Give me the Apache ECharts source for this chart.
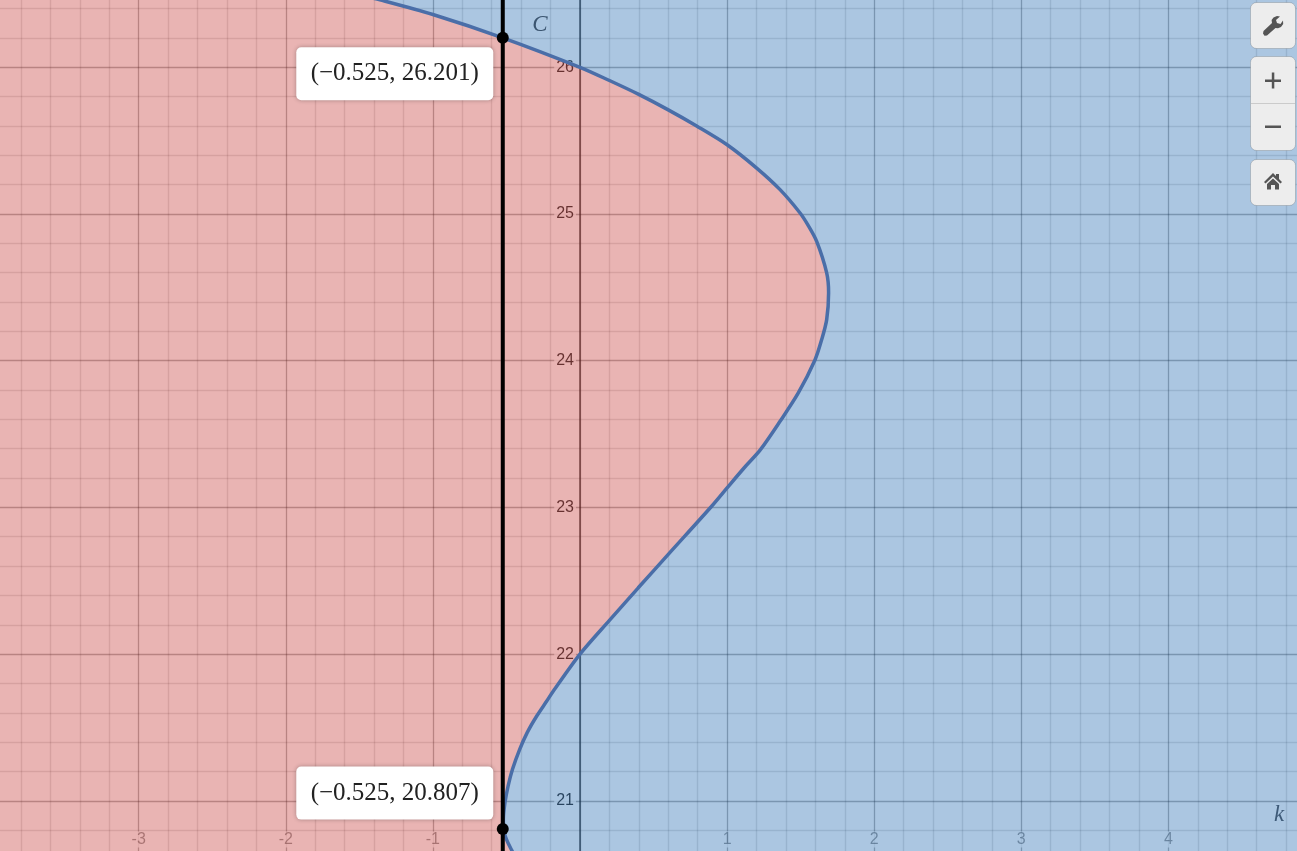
<!DOCTYPE html>
<html>
<head>
<meta charset="utf-8">
<style>html,body{margin:0;padding:0;background:#fff;overflow:hidden}#c{width:1297px;height:851px}</style>
<script src="https://cdn.jsdelivr.net/npm/echarts@6/dist/echarts.min.js"></script>
</head>
<body>
<div id="c"></div>
<script>
// boundary curve, top to bottom
const curveK = [-1.45,-1.36,-1.0,-0.525,0,0.2,0.396,0.6,0.793,1.0,1.201,1.36,1.496,1.55,1.609,1.677,1.69,1.677,1.643,1.598,1.484,1.36,1.224,1.118,1.0,0.895,0.6,0.396,0.2,0,-0.18,-0.226,-0.294,-0.359,-0.41,-0.459,-0.489,-0.51,-0.521,-0.52,-0.5,-0.464,-0.43];
const curveC = [26.48,26.46,26.36,26.201,26,25.91,25.817,25.71,25.6,25.472,25.313,25.166,25.007,24.924,24.813,24.598,24.464,24.28,24.144,24.007,23.78,23.587,23.39,23.272,23.133,23.008,22.68,22.452,22.23,22,21.75,21.68,21.578,21.465,21.351,21.215,21.1,20.988,20.874,20.807,20.737,20.663,20.6];
const lineK = -0.525;
const markedK = [-0.525,-0.525];
const markedC = [26.201,20.807];
const markedText = ['(\u22120.525, 26.201)','(\u22120.525, 20.807)'];
const kRange = [-4,5];
const cRange = [20,27];

const curve = curveK.map((k,i)=>[k,curveC[i]]);
const redShape = curve.concat([[kRange[0],cRange[0]],[kRange[0],cRange[1]]]);
const blueShape = curve.concat([[kRange[1],cRange[0]],[kRange[1],cRange[1]],[kRange[0],cRange[1]]]);

function region(pts,color){
  return {
    type:'custom',coordinateSystem:'cartesian2d',silent:true,animation:false,z:2,clip:true,
    data:pts,encode:{x:0,y:1},
    renderItem(params,api){
      if(params.dataIndex!==0) return null;
      return {type:'polygon',shape:{points:pts.map(p=>api.coord(p))},style:{fill:color,opacity:0.4,stroke:null}};
    }
  };
}
const minor='rgba(0,0,0,0.12)', major='rgba(0,0,0,0.32)';
const labelBg='rgba(255,255,255,0.8)';
const btn={fill:'#ededed',stroke:'rgba(0,0,0,0.16)',lineWidth:1};
const btnZ=100, ic='#555';

const chart=echarts.init(document.getElementById('c'),null,{renderer:'canvas',width:1297,height:851});
chart.setOption({
  animation:false,
  backgroundColor:'#fff',
  grid:{left:-8.4,top:-79.4,width:1323.9,height:1026.9,containLabel:false,outerBoundsMode:'none'},
  xAxis:{
    type:'value',min:kRange[0],max:kRange[1],interval:1,position:'bottom',offset:-117,
    axisLine:{show:false,onZero:false},axisTick:{show:false},minorTick:{show:false,splitNumber:5},
    splitLine:{show:true,lineStyle:{color:major,width:1.3}},
    minorSplitLine:{show:true,lineStyle:{color:minor,width:1.4}},
    axisLabel:{show:true,margin:1,showMinLabel:true,showMaxLabel:true,hideOverlap:false,
      color:'rgba(0,0,0,0.42)',fontFamily:'Liberation Sans',fontSize:16,backgroundColor:labelBg,padding:[0,2],
      formatter:v=>v===0?'':String(v)}
  },
  yAxis:{
    type:'value',min:cRange[0],max:cRange[1],interval:1,position:'left',offset:-588.4,
    axisLine:{show:true,onZero:false,lineStyle:{color:'rgba(0,0,0,0.72)',width:1.5}},axisTick:{show:false},minorTick:{show:false,splitNumber:5},
    splitLine:{show:true,lineStyle:{color:major,width:1.3}},
    minorSplitLine:{show:true,lineStyle:{color:minor,width:1.4}},
    axisLabel:{show:true,margin:4,color:'rgba(0,0,0,0.85)',fontFamily:'Liberation Sans',fontSize:16,backgroundColor:labelBg,padding:[0,2]}
  },
  series:[
    region(redShape,'#c74440'),
    region(blueShape,'#2d70b3'),
    {type:'line',data:curve,smooth:0.3,showSymbol:false,silent:true,z:3,lineStyle:{color:'#4a6ea8',width:3.5}},
    {type:'line',data:cRange.map(c=>[lineK,c]),showSymbol:false,silent:true,z:4,lineStyle:{color:'#000',width:4}},
    {type:'scatter',data:markedK.map((k,i)=>[k,markedC[i]]),symbolSize:12,silent:true,z:5,
      itemStyle:{color:'#000',opacity:1},
      label:{show:true,position:'left',distance:4,
        formatter:p=>markedText[p.dataIndex],
        fontFamily:'Liberation Serif',fontSize:25,color:'#222',
        backgroundColor:'#fff',borderRadius:5,width:197,height:53,lineHeight:53,align:'center',
        shadowColor:'rgba(0,0,0,0.3)',shadowBlur:4},
      labelLayout:p=>({dx:-98,dy:p.dataIndex===0?36:-36})
    }
  ],
  graphic:[
    {type:'text',z:btnZ,style:{x:540,y:25,text:'C',fill:'#3b5570',font:'italic 23px "Liberation Serif"',align:'center',verticalAlign:'middle'}},
    {type:'text',z:btnZ,style:{x:1279,y:815,text:'k',fill:'#3e5a78',font:'italic 23px "Liberation Serif"',align:'center',verticalAlign:'middle'}},
    {type:'rect',z:btnZ,shape:{x:1250.5,y:2.5,width:45,height:46,r:6},style:btn},
    {type:'rect',z:btnZ,shape:{x:1250.5,y:56.5,width:45,height:94,r:6},style:btn},
    {type:'line',z:btnZ,shape:{x1:1251,y1:103.5,x2:1295,y2:103.5},style:{stroke:'rgba(0,0,0,0.14)',lineWidth:1}},
    {type:'rect',z:btnZ,shape:{x:1250.5,y:159.5,width:45,height:46,r:6},style:btn},
    {type:'polygon',z:btnZ+1,shape:{points:[[1263.5,31],[1272,23],[1271.6,20],[1273.5,17.5],[1277,16],[1280,16.5],[1276,20],[1277,23],[1280.5,24],[1283,20.5],[1283.2,24],[1281,27],[1278,28.2],[1275.5,28],[1267,35.5],[1264.5,35.8],[1263,33.5]]},style:{fill:ic}},
    {type:'rect',z:btnZ+1,shape:{x:1265,y:79.5,width:16,height:2.5},style:{fill:ic}},
    {type:'rect',z:btnZ+1,shape:{x:1271.8,y:72.5,width:2.5,height:16},style:{fill:ic}},
    {type:'rect',z:btnZ+1,shape:{x:1265,y:125.5,width:16,height:2.5},style:{fill:ic}},
    {type:'polygon',z:btnZ+1,shape:{points:[[1264,182],[1273,173],[1276,176],[1276,174],[1279,174],[1279,179],[1282,182],[1280.5,183.5],[1273,176.5],[1265.5,183.5]]},style:{fill:ic}},
    {type:'polygon',z:btnZ+1,shape:{points:[[1267,184],[1273,178.5],[1279,184],[1279,189.5],[1275,189.5],[1275,185],[1271,185],[1271,189.5],[1267,189.5]]},style:{fill:ic}}
  ]
});
</script>
</body>
</html>
